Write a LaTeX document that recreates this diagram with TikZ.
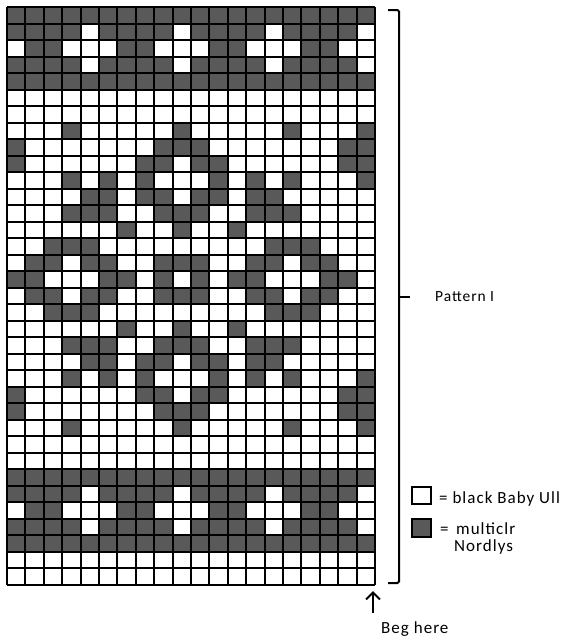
\documentclass[tikz,border=0pt]{standalone}
\usepackage{fontspec}
\setmainfont{Carlito}[LetterSpace=6]
\usetikzlibrary{arrows.meta}
\definecolor{knitdark}{HTML}{595959}
\tikzset{
  gridline/.style={line width=2pt, black},
  darkcell/.style={fill=knitdark},
  bracketline/.style={line width=2pt, black, rounded corners=1.5pt},
  legbox/.style={line width=2pt, black},
  lbl/.style={anchor=base west, inner sep=0pt, font=\fontsize{17}{17}\selectfont},
  plbl/.style={anchor=base west, inner sep=0pt, font=\fontsize{15.5}{15.5}\selectfont},
}
\begin{document}
\begin{tikzpicture}[x=1pt,y=-1pt]
\useasboundingbox (0,0) rectangle (574,640);
\fill[white] (0,0) rectangle (574,640);
\def\cw{18.4}
\def\ch{16.514}
% dark cells: row / list of dark columns
\foreach \r/\cols in {
  1/{1,...,20},
  2/{1,2,3,4,6,7,8,9,11,12,13,14,16,17,18,19},
  3/{2,3,7,8,12,13,17,18},
  4/{1,2,3,4,6,7,8,9,11,12,13,14,16,17,18,19},
  5/{1,...,20},
  8/{4,10,16,20},
  9/{1,9,10,11,19,20},
  10/{1,8,9,11,12,19,20},
  11/{4,6,8,12,14,16,20},
  12/{5,6,8,9,11,12,14,15},
  13/{4,5,6,9,10,11,14,15,16},
  14/{7,10,13},
  15/{3,4,5,15,16,17},
  16/{2,3,5,6,9,10,11,14,15,17,18},
  17/{1,2,6,7,9,11,13,14,18,19},
  18/{2,3,5,6,9,10,11,14,15,17,18},
  19/{3,4,5,15,16,17},
  20/{7,10,13},
  21/{4,5,6,9,10,11,14,15,16},
  22/{5,6,8,9,11,12,14,15},
  23/{4,6,8,12,14,16,20},
  24/{1,8,9,11,12,19,20},
  25/{1,9,10,11,19,20},
  26/{4,10,16,20},
  29/{1,...,20},
  30/{1,2,3,4,6,7,8,9,11,12,13,14,16,17,18,19},
  31/{2,3,7,8,12,13,17,18},
  32/{1,2,3,4,6,7,8,9,11,12,13,14,16,17,18,19},
  33/{1,...,20}} {
  \foreach \c in \cols {
    \fill[darkcell] ({7+\cw*(\c-1)},{7+\ch*(\r-1)}) rectangle ++(\cw,\ch);
  }
}
% grid lines
\foreach \i in {0,...,20} \draw[gridline] ({7+\cw*\i},7) -- ({7+\cw*\i},585);
\foreach \j in {0,...,35} \draw[gridline] (7,{7+\ch*\j}) -- (375,{7+\ch*\j});
% bracket
\draw[bracketline] (388,10) -- (399,10) -- (399,583) -- (388,583);
\draw[line width=2pt] (399,297) -- (410,297);
\node[plbl] (pat) at (435,301) {Pattern I};
% legend
\draw[legbox, fill=white] (412,487) rectangle (431,504);
\node[lbl] (leg1) at (439,503) {= black Baby Ull};
\draw[legbox, fill=knitdark] (412,519) rectangle (431,537);
\node[lbl] (leg2eq) at (440,534) {=};
\node[lbl] (leg2) at (456,534) {multiclr};
\node[lbl] (leg3) at (454,551) {Nordlys};
% start arrow
\coordinate (begtail) at (373,613);
\coordinate (begtip) at (373,591);
\draw[line width=2pt, -{Straight Barb[length=7pt,width=14pt,line width=2pt]}] (begtail) -- (begtip);
\node[lbl] (beg) at (381,633) {Beg here};
\end{tikzpicture}
\end{document}
